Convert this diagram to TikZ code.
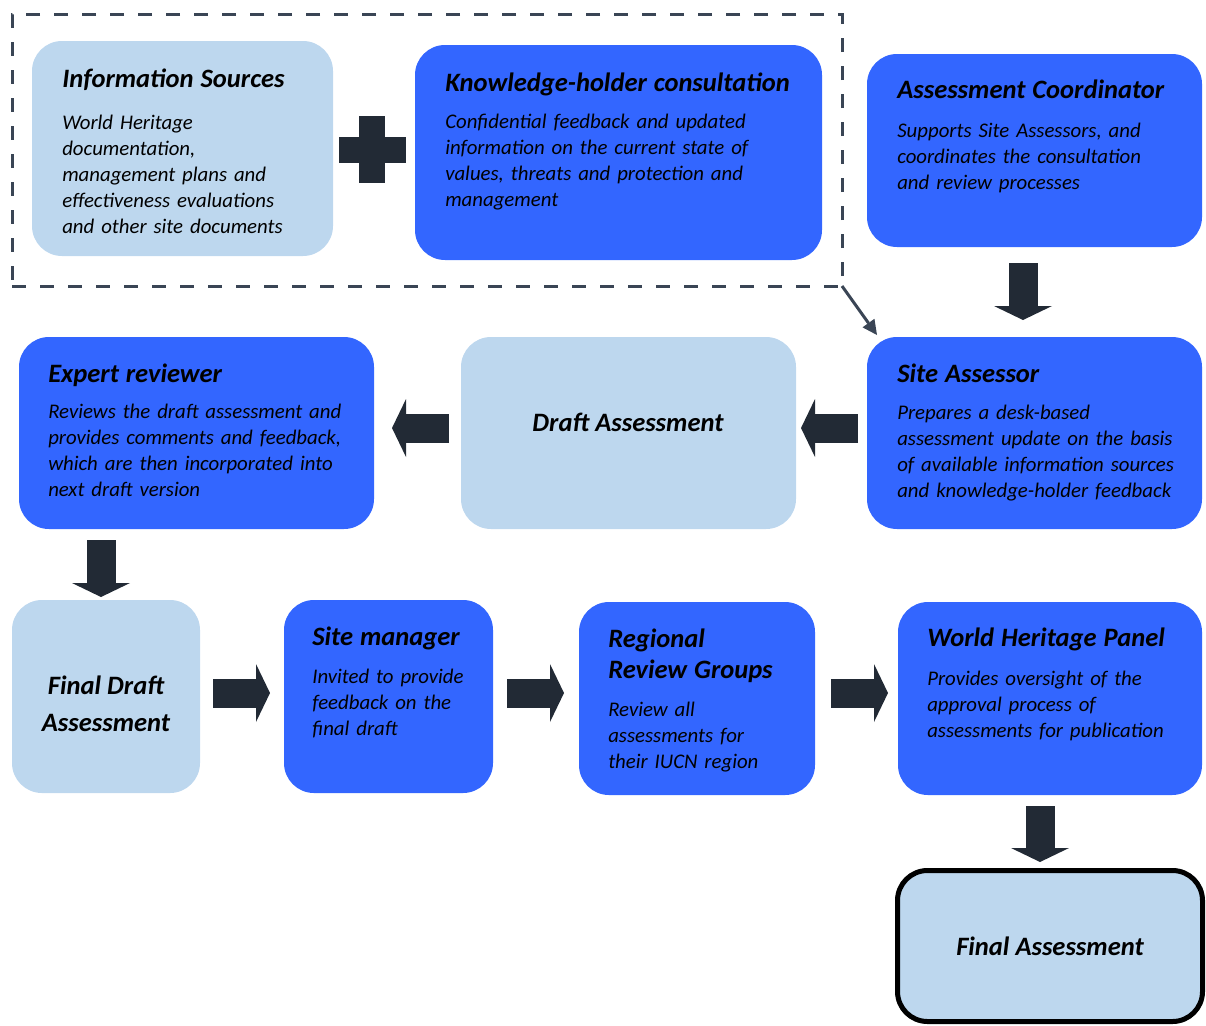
\documentclass[tikz,border=0pt]{standalone}
\usepackage{fontspec}
\setmainfont{Carlito}
\usetikzlibrary{arrows.meta,fit}

\definecolor{paleblue}{HTML}{BDD7EE}
\definecolor{brightblue}{HTML}{3366FF}
\definecolor{darkslate}{HTML}{222A35}
\definecolor{dashgrey}{HTML}{3A4555}

\newcommand{\hd}[1]{{\fontsize{19.9}{23}\selectfont\bfseries #1}}

\tikzset{
  box/.style={rectangle, rounded corners=22.5pt, inner sep=0pt, outer sep=0pt},
  palebox/.style={box, fill=paleblue},
  bluebox/.style={box, fill=brightblue},
  txt/.style={anchor=base west, inner sep=0pt, align=left, text width=320pt,
    font=\fontsize{15.6}{19.5}\selectfont\itshape},
  hdtxt/.style={inner sep=0pt, align=center,
    font=\fontsize{19.9}{27.75}\selectfont\bfseries\itshape},
  blockarrow/.style={draw=darkslate, line width=21.75pt,
    -{Triangle[length=10.5pt, width=43.5pt, line width=0pt]}},
}

\begin{document}
\begin{tikzpicture}[x=0.75pt, y=-0.75pt]
    \useasboundingbox (0,0) rectangle (1206,1025);

    % boxes
    \node[palebox, fit={(32,41) (333,256)}] (info) {};
    \node[bluebox, fit={(415,45) (822,260)}] (know) {};
    \node[bluebox, fit={(867,54) (1202,247)}] (coord) {};
    \node[bluebox, fit={(867,337) (1202,529)}] (sa) {};
    \node[palebox, fit={(461,337) (796,529)}] (draft) {};
    \node[bluebox, fit={(19,337) (374,529)}] (expert) {};
    \node[palebox, fit={(12,600) (200,793)}] (fd) {};
    \node[bluebox, fit={(284,600) (493,793)}] (sm) {};
    \node[bluebox, fit={(579,602) (815,795)}] (rrg) {};
    \node[bluebox, fit={(898,602) (1202,795)}] (whp) {};
    \node[palebox, draw=black, line width=3.75pt, fit={(897.5,870.5) (1202.5,1021.5)}] (fa) {};

    \node[draw=dashgrey, line width=2.25pt, dash pattern=on 10.5pt off 10.5pt,
      inner sep=0pt, outer sep=0pt, fit={(12,14) (842,286)}] (grp) {};

    % plus sign
    \fill[darkslate] (359,116) rectangle (385,183);
    \fill[darkslate] (339,137) rectangle (406,163);

    % texts
    \node[txt] (info-t) at (62,87) {\hd{Information Sources}\\[12pt]World Heritage\\documentation,\\management plans and\\effectiveness evaluations\\and other site documents};
    \node[txt] (know-t) at (445,91) {\hd{Knowledge-holder consultation}\\[8.25pt]Confidential feedback and updated\\information on the current state of\\values, threats and protection and\\management};
    \node[txt] (coord-t) at (897,98) {\hd{Assessment Coordinator}\\[9.75pt]Supports Site Assessors, and\\coordinates the consultation\\and review processes};
    \node[txt] (sa-t) at (897,382) {\hd{Site Assessor}\\[8.25pt]Prepares a desk-based\\assessment update on the basis\\of available information sources\\and knowledge-holder feedback};
    \node[hdtxt] (draft-t) at (628,422) {Draft Assessment};
    \node[txt] (expert-t) at (48,382) {\hd{Expert reviewer}\\[7.5pt]Reviews the draft assessment and\\provides comments and feedback,\\which are then incorporated into\\next draft version};
    \node[hdtxt] (fd-t) at (106,704) {Final Draft\\Assessment};
    \node[txt] (sm-t) at (312,645) {\hd{Site manager}\\[9pt]Invited to provide\\feedback on the\\final draft};
    \node[txt] (rrg-t) at (608,647) {\hd{Regional}\\[3.75pt]\hd{Review Groups}\\[9pt]Review all\\assessments for\\their IUCN region};
    \node[txt] (whp-t) at (927,646) {\hd{World Heritage Panel}\\[9.75pt]Provides oversight of the\\approval process of\\assessments for publication};
    \node[hdtxt] (fa-t) at (fa) {Final Assessment};

    % connectors
    \draw[draw=dashgrey, line width=2.25pt, -{Triangle[length=11pt, width=11pt, line width=0pt]}] (grp.south east) -- ([shift={(10,-2)}]sa.north west);
    \draw[blockarrow] ([shift={(-11.5,16)}]coord.south) -- ([shift={(-11.5,-17)}]sa.north);
    \draw[blockarrow] ([shift={(-9,-5)}]sa.west) -- ([shift={(5,-5)}]draft.east);
    \draw[blockarrow] ([shift={(-12,-5)}]draft.west) -- ([shift={(18,-5)}]expert.east);
    \draw[blockarrow] ([shift={(82,11)}]expert.south west) -- ([shift={(-5,-3)}]fd.north);
    \draw[blockarrow] ([shift={(13,-3.5)}]fd.east) -- ([shift={(-14,-3.5)}]sm.west);
    \draw[blockarrow] ([shift={(14,-3.5)}]sm.east) -- ([shift={(-15,-5.5)}]rrg.west);
    \draw[blockarrow] ([shift={(16,-5.5)}]rrg.east) -- ([shift={(-10,-5.5)}]whp.west);
    \draw[blockarrow] ([shift={(-10,11)}]whp.south) -- ([shift={(-10,-8.5)}]fa.north);
\end{tikzpicture}
\end{document}
